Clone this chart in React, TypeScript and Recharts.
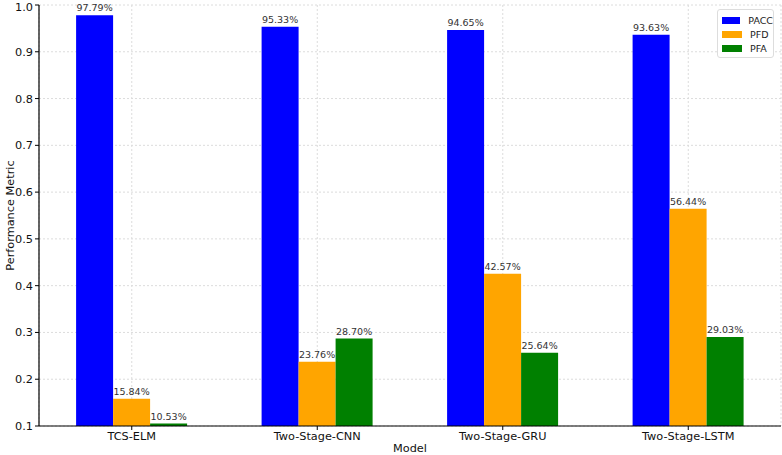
import React from 'react';
import { BarChart, Bar, XAxis, YAxis, CartesianGrid, LabelList } from 'recharts';

const models = ['TCS-ELM', 'Two-Stage-CNN', 'Two-Stage-GRU', 'Two-Stage-LSTM'];
const pacc = [0.9779, 0.9533, 0.9465, 0.9363];
const pfd = [0.1584, 0.2376, 0.4257, 0.5644];
const pfa = [0.1053, 0.287, 0.2564, 0.2903];
const yTicks = [0.1, 0.2, 0.3, 0.4, 0.5, 0.6, 0.7, 0.8, 0.9, 1.0];

const series = [
  { key: 'PACC', color: '#0000ff' },
  { key: 'PFD', color: '#ffa500' },
  { key: 'PFA', color: '#008000' },
];

const data = models.map((m, i) => ({ model: m, PACC: pacc[i], PFD: pfd[i], PFA: pfa[i] }));

const font = 'DejaVu Sans, sans-serif';
const pct = (v: any) => (Number(v) * 100).toFixed(2) + '%';

function LegendBox() {
  return (
    <div style={{ position: 'absolute', top: 9, left: 717, width: 57, boxSizing: 'border-box', background: '#fff', border: '1px solid #ddd', borderRadius: 3, padding: '3px 0 2px 4px', fontFamily: font, fontSize: 9.5, color: '#222' }}>
      {series.map((s) => (
        <div key={s.key} style={{ display: 'flex', alignItems: 'center', height: 14 }}>
          <span style={{ display: 'inline-block', width: 20, height: 7, background: s.color, marginRight: 8 }} />
          {s.key}
        </div>
      ))}
    </div>
  );
}

export default function App() {
  return (
    <div style={{ position: 'absolute', left: 0, top: 0, width: 782, height: 455, background: '#fff' }}>
      <BarChart width={782} height={455} data={data} margin={{ top: 5, right: 1, left: 0, bottom: 0 }} barCategoryGap="20%" barGap={0}>
        <CartesianGrid stroke="#dcdcdc" strokeDasharray="2 2" />
        <XAxis
          dataKey="model"
          height={29}
          axisLine={{ stroke: '#000', strokeWidth: 1.2 }}
          tickLine={{ stroke: '#000' }}
          tickSize={4}
          tick={{ fontSize: 11.3, fill: '#111', fontFamily: font }}
          label={{ value: 'Model', position: 'insideBottom', offset: 3, fontSize: 11.3, fill: '#111', fontFamily: font }}
        />
        <YAxis
          width={39}
          domain={[0.1, 1.0]}
          ticks={yTicks}
          allowDataOverflow
          tickFormatter={(v: number) => v.toFixed(1)}
          axisLine={{ stroke: '#000', strokeWidth: 1.2 }}
          tickLine={{ stroke: '#000' }}
          tickSize={4}
          tick={{ fontSize: 11.3, fill: '#111', fontFamily: font }}
          label={{ value: 'Performance Metric', angle: -90, position: 'insideLeft', offset: 10, fontSize: 11.3, fill: '#111', fontFamily: font, style: { textAnchor: 'middle' } }}
        />
        {series.map((s) => (
          <Bar key={s.key} dataKey={s.key} fill={s.color} isAnimationActive={false}>
            <LabelList dataKey={s.key} position="top" offset={4} formatter={pct} style={{ fontSize: 9.5, fill: '#333', fontFamily: font }} />
          </Bar>
        ))}
      </BarChart>
      <LegendBox />
    </div>
  );
}
